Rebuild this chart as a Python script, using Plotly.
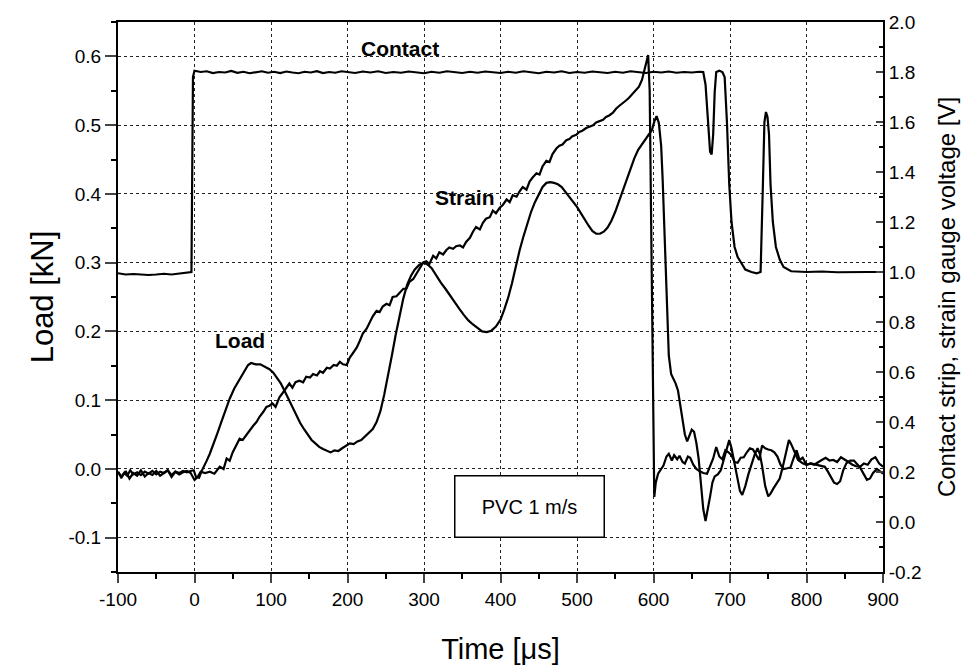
import plotly.graph_objects as go

# ---------------- data ----------------
# Load curve (kN, left axis)
load_t = [-100, -96, -92, -88, -84, -80, -75, -70, -65, -60, -55, -50, -45, -40, -35, -30, -25, -20, -15, -10, -5, -1,
          2, 6, 9, 12, 16, 20, 25, 30, 35, 40, 46, 52, 58, 64, 70, 74, 80, 86, 92, 98, 103, 108, 113, 118, 123, 128,
          133, 138, 143, 148, 153, 158, 163, 168, 173, 178, 183, 188, 193, 198, 203, 208, 213, 218, 223, 228, 233,
          238, 243, 248, 253, 258, 263, 268, 273, 278, 283, 288, 294, 300, 305, 310, 316, 322, 328, 334, 340, 346,
          352, 358, 364, 370, 376, 382, 388, 394, 400, 405, 410, 415, 420, 425, 430, 435, 440, 445, 450, 455, 460,
          465, 470, 475, 480, 485, 490, 495, 500, 505, 510, 515, 520, 525, 530, 535, 540, 545, 550, 555, 560, 565,
          570, 575, 580, 585, 590, 595, 598, 601, 604, 607, 610, 612, 614, 617, 620, 623, 626, 629, 632, 635, 638,
          641, 644, 647, 650, 653, 656, 659, 662, 665, 668, 671, 674, 677, 680, 684, 688, 692, 696, 699, 702, 706,
          710, 713, 716, 720, 724, 728, 732, 736, 739, 742, 746, 750, 753, 757, 761, 765, 769, 773, 777, 780, 784,
          789, 795, 800, 806, 812, 818, 824, 828, 832, 836, 840, 844, 848, 852, 857, 862, 866, 870, 875, 879, 883,
          887, 892, 896, 900]
load_kn = [-0.004, -0.012, -0.006, -0.010, -0.002, -0.008, -0.005, -0.009, -0.004, -0.007, -0.003, -0.008, -0.004,
           -0.006, -0.002, -0.009, -0.004, -0.006, -0.003, -0.005, -0.003, -0.002,
           -0.012, -0.013, -0.004, 0.002, 0.012, 0.022, 0.036, 0.052, 0.068, 0.084, 0.102, 0.117, 0.128, 0.139, 0.151,
           0.154, 0.152, 0.152, 0.149, 0.145, 0.140, 0.132, 0.124, 0.113, 0.101, 0.090, 0.078, 0.067, 0.058, 0.050,
           0.042, 0.037, 0.032, 0.029, 0.026, 0.024, 0.027, 0.026, 0.030, 0.034, 0.037, 0.036, 0.040, 0.042, 0.047,
           0.052, 0.058, 0.068, 0.084, 0.108, 0.135, 0.165, 0.195, 0.222, 0.248, 0.268, 0.281, 0.290, 0.297, 0.300,
           0.297, 0.292, 0.281, 0.271, 0.262, 0.252, 0.242, 0.233, 0.224, 0.216, 0.210, 0.205, 0.200, 0.199, 0.201,
           0.207, 0.217, 0.232, 0.249, 0.270, 0.295, 0.318, 0.338, 0.357, 0.374, 0.388, 0.400, 0.410, 0.416, 0.417,
           0.416, 0.414, 0.410, 0.403, 0.396, 0.389, 0.381, 0.372, 0.362, 0.354, 0.346, 0.342, 0.342, 0.345, 0.351,
           0.361, 0.374, 0.390, 0.407, 0.423, 0.438, 0.452, 0.464, 0.472, 0.479, 0.487, 0.493, 0.505, 0.513, 0.503,
           0.470, 0.420, 0.350, 0.240, 0.165, 0.138, 0.132, 0.124, 0.114, 0.092, 0.070, 0.050, 0.040, 0.050, 0.057,
           0.054, 0.038, 0.015, -0.022, -0.058, -0.076, -0.060, -0.040, -0.020, -0.011, -0.008, -0.002, 0.014, 0.032,
           0.042, 0.030, 0.008, -0.015, -0.032, -0.038, -0.025, -0.008, 0.008, 0.020, 0.030, 0.022, 0.004, -0.025,
           -0.040, -0.036, -0.028, -0.020, -0.014, 0.003, 0.025, 0.042, 0.036, 0.025, 0.013, 0.008, 0.006, 0.008,
           0.006, 0.005, 0.003, -0.004, -0.012, -0.020, -0.022, -0.018, -0.002, 0.008, 0.012, 0.012, 0.007, 0.002,
           -0.008, -0.016, -0.014, -0.006, 0.000, -0.004, -0.007]

# Strain gauge voltage (V, right axis)
strain_t = [-100, -95, -90, -85, -80, -75, -70, -65, -60, -55, -50, -45, -40, -35, -30, -25, -20, -15, -10, -5, 0, 4,
            8, 14, 20, 26, 33, 38, 42, 46, 50, 55, 59, 63, 68, 72, 77, 81, 85, 90, 94, 98, 102, 106, 111, 115, 120,
            124, 128, 132, 137, 142, 146, 151, 155, 160, 164, 168, 173, 177, 182, 186, 190, 194, 199, 203, 207, 212,
            216, 220, 225, 229, 233, 238, 242, 246, 251, 255, 259, 264, 268, 273, 277, 281, 286, 290, 294, 299, 303,
            307, 312, 316, 320, 325, 329, 333, 338, 342, 347, 351, 355, 360, 364, 368, 373, 377, 381, 386, 390, 394,
            399, 403, 408, 412, 416, 421, 425, 429, 434, 438, 442, 447, 451, 455, 460, 464, 468, 473, 477, 481, 486,
            490, 494, 499, 503, 507, 512, 516, 521, 525, 529, 534, 538, 542, 547, 551, 555, 560, 564, 568, 573, 577,
            581, 585, 588, 591, 593, 595, 597, 599, 601, 603, 606, 610, 613, 617, 620, 624, 627, 631, 634, 638, 641,
            645, 648, 652, 656, 660, 665, 670, 674, 678, 682, 686, 690, 694, 698, 702, 706, 710, 714, 718, 722, 726,
            730, 734, 738, 742, 746, 750, 754, 758, 762, 766, 770, 775, 779, 783, 787, 791, 795, 800, 805, 810, 815,
            820, 825, 830, 835, 840, 845, 850, 855, 860, 865, 870, 875, 880, 885, 890, 895, 900]
strain_v = [0.199, 0.180, 0.204, 0.174, 0.196, 0.185, 0.207, 0.182, 0.196, 0.188, 0.204, 0.185, 0.196, 0.207, 0.180,
            0.201, 0.190, 0.199, 0.204, 0.196, 0.168, 0.180, 0.201, 0.196, 0.201, 0.193, 0.221, 0.212, 0.254, 0.245,
            0.279, 0.306, 0.333, 0.328, 0.350, 0.367, 0.386, 0.400, 0.421, 0.441, 0.460, 0.465, 0.474, 0.460, 0.499,
            0.515, 0.534, 0.554, 0.537, 0.559, 0.565, 0.559, 0.581, 0.578, 0.592, 0.586, 0.603, 0.597, 0.617, 0.614,
            0.628, 0.625, 0.641, 0.631, 0.628, 0.658, 0.675, 0.697, 0.724, 0.754, 0.773, 0.801, 0.823, 0.845, 0.840,
            0.862, 0.873, 0.867, 0.900, 0.903, 0.917, 0.933, 0.933, 0.961, 0.972, 0.994, 1.010, 1.038, 1.043, 1.032,
            1.065, 1.054, 1.079, 1.070, 1.087, 1.098, 1.093, 1.103, 1.106, 1.098, 1.120, 1.137, 1.161, 1.180, 1.170,
            1.197, 1.213, 1.219, 1.246, 1.235, 1.257, 1.268, 1.290, 1.279, 1.307, 1.301, 1.323, 1.340, 1.329, 1.362,
            1.378, 1.395, 1.390, 1.423, 1.445, 1.440, 1.472, 1.494, 1.505, 1.510, 1.527, 1.532, 1.543, 1.549, 1.560,
            1.565, 1.576, 1.582, 1.587, 1.598, 1.604, 1.609, 1.620, 1.626, 1.637, 1.653, 1.664, 1.675, 1.686, 1.697,
            1.714, 1.725, 1.741, 1.769, 1.802, 1.840, 1.868, 1.725, 1.175, 0.488, 0.100, 0.158, 0.193, 0.212, 0.226,
            0.262, 0.273, 0.246, 0.267, 0.251, 0.265, 0.240, 0.234, 0.262, 0.257, 0.229, 0.212, 0.204, 0.196, 0.193,
            0.221, 0.254, 0.300, 0.262, 0.251, 0.287, 0.279, 0.267, 0.240, 0.237, 0.257, 0.259, 0.279, 0.295, 0.290,
            0.267, 0.248, 0.306, 0.295, 0.290, 0.287, 0.279, 0.262, 0.229, 0.212, 0.215, 0.218, 0.254, 0.287, 0.248,
            0.257, 0.229, 0.234, 0.229, 0.240, 0.248, 0.257, 0.246, 0.248, 0.240, 0.259, 0.251, 0.240, 0.229, 0.223,
            0.221, 0.234, 0.229, 0.251, 0.259, 0.234, 0.221]

# Contact strip voltage (V, right axis)
contact_t = [-100, -90, -80, -70, -60, -50, -40, -30, -20, -10, -4, -2, 0, 8, 16, 24, 32, 40, 48, 56, 64, 72, 80, 88,
             96, 104, 112, 120, 128, 136, 144, 152, 160, 168, 176, 184, 192, 200, 210, 220, 230, 240, 250, 260, 270,
             280, 290, 300, 310, 320, 330, 340, 350, 360, 370, 380, 390, 400, 410, 420, 430, 440, 450, 460, 470, 480,
             490, 500, 510, 520, 530, 540, 550, 560, 570, 580, 590, 600, 610, 620, 630, 640, 650, 660, 665, 668, 671,
             674, 676, 678, 680, 682, 686, 690, 693, 696, 699, 702, 706, 710, 714, 720, 728, 735, 740, 741, 743, 745,
             747, 749, 751, 753, 756, 760, 765, 770, 780, 800, 820, 840, 860, 880, 900]
contact_v = [0.995, 0.990, 0.992, 0.990, 0.988, 0.990, 0.993, 0.990, 0.995, 0.998, 1.000, 1.780, 1.805, 1.800, 1.803,
             1.796, 1.800, 1.798, 1.804, 1.797, 1.801, 1.795, 1.800, 1.803, 1.797, 1.801, 1.796, 1.802, 1.798, 1.795,
             1.801, 1.798, 1.803, 1.796, 1.800, 1.797, 1.803, 1.799, 1.796, 1.802, 1.798, 1.803, 1.796, 1.800, 1.797,
             1.802, 1.799, 1.795, 1.801, 1.797, 1.803, 1.798, 1.796, 1.801, 1.797, 1.802, 1.798, 1.796, 1.801, 1.797,
             1.803, 1.798, 1.795, 1.801, 1.798, 1.803, 1.796, 1.800, 1.797, 1.802, 1.798, 1.796, 1.801, 1.797, 1.803,
             1.798, 1.796, 1.801, 1.798, 1.802, 1.797, 1.800, 1.798, 1.801, 1.800, 1.750, 1.600, 1.480, 1.470, 1.550,
             1.720, 1.800, 1.805, 1.800, 1.780, 1.600, 1.350, 1.200, 1.100, 1.060, 1.040, 1.010, 1.000, 0.995, 1.000,
             1.100, 1.350, 1.600, 1.640, 1.620, 1.550, 1.350, 1.200, 1.100, 1.050, 1.020, 1.003, 1.000, 1.002, 0.999,
             1.001, 1.000, 1.000]

# Tick labels
x_ticks = [-100, 0, 100, 200, 300, 400, 500, 600, 700, 800, 900]
x_labels = ["-100", "0", "100", "200", "300", "400", "500", "600", "700", "800", "900"]
load_ticks = [-0.1, 0.0, 0.1, 0.2, 0.3, 0.4, 0.5, 0.6]
load_labels = ["-0.1", "0.0", "0.1", "0.2", "0.3", "0.4", "0.5", "0.6"]
volt_ticks = [-0.2, 0.0, 0.2, 0.4, 0.6, 0.8, 1.0, 1.2, 1.4, 1.6, 1.8, 2.0]
volt_labels = ["-0.2", "0.0", "0.2", "0.4", "0.6", "0.8", "1.0", "1.2", "1.4", "1.6", "1.8", "2.0"]

FONT = "Liberation Sans, Arial, sans-serif"
line_style = dict(color="black", width=2.2)

fig = go.Figure()
fig.add_trace(go.Scatter(x=contact_t, y=contact_v, mode="lines", line=line_style, yaxis="y2", name="Contact"))
fig.add_trace(go.Scatter(x=strain_t, y=strain_v, mode="lines", line=line_style, yaxis="y2", name="Strain"))
fig.add_trace(go.Scatter(x=load_t, y=load_kn, mode="lines", line=line_style, yaxis="y", name="Load"))

grid = dict(showgrid=True, gridcolor="#222", gridwidth=1, griddash="dot")

fig.update_layout(
    width=978, height=672,
    margin=dict(l=118, r=95, t=21, b=96),
    paper_bgcolor="white", plot_bgcolor="white",
    showlegend=False,
    font=dict(family=FONT, color="black", size=19),
    xaxis=dict(range=[-100, 900], tickvals=x_ticks, ticktext=x_labels, ticks="outside", ticklen=9, tickwidth=2,
               showline=True, linewidth=2, linecolor="black", mirror=True, zeroline=False,
               title=dict(text="Time [μs]", font=dict(size=29), standoff=30),
               minor=dict(dtick=50, ticks="outside", ticklen=5, tickwidth=2, tickcolor="black", showgrid=False),
               tickfont=dict(size=19), **grid),
    yaxis=dict(range=[-0.15, 0.65], tickvals=load_ticks, ticktext=load_labels, ticks="outside", ticklen=11,
               tickwidth=2, showline=True, linewidth=2, linecolor="black", zeroline=False,
               title=dict(text="Load [kN]", font=dict(size=31), standoff=6),
               minor=dict(dtick=0.05, tick0=0, ticks="outside", ticklen=5, tickwidth=2, tickcolor="black",
                          showgrid=False),
               tickfont=dict(size=19), **grid),
    yaxis2=dict(range=[-0.2, 2.0], tickvals=volt_ticks, ticktext=volt_labels, overlaying="y", side="right",
                ticks="inside", ticklen=7, tickwidth=2, showline=True, linewidth=2, linecolor="black",
                showgrid=False, zeroline=False,
                title=dict(text="Contact strip, strain gauge voltage [V]", font=dict(size=24), standoff=18),
                minor=dict(dtick=0.1, tick0=0, ticks="inside", ticklen=4, tickwidth=2, tickcolor="black"),
                tickfont=dict(size=19)),
    annotations=[
        dict(x=268, y=0.612, xref="x", yref="y", text="<b>Contact</b>", showarrow=False, font=dict(size=21)),
        dict(x=353, y=0.395, xref="x", yref="y", text="<b>Strain</b>", showarrow=False, font=dict(size=21)),
        dict(x=60, y=0.187, xref="x", yref="y", text="<b>Load</b>", showarrow=False, font=dict(size=21)),
        dict(x=438, y=-0.055, xref="x", yref="y", text="PVC 1 m/s", showarrow=False, font=dict(size=20),
             bordercolor="black", borderwidth=1.5, borderpad=6, width=136, height=48, bgcolor="white"),
    ],
)

fig.write_html("out.html")
